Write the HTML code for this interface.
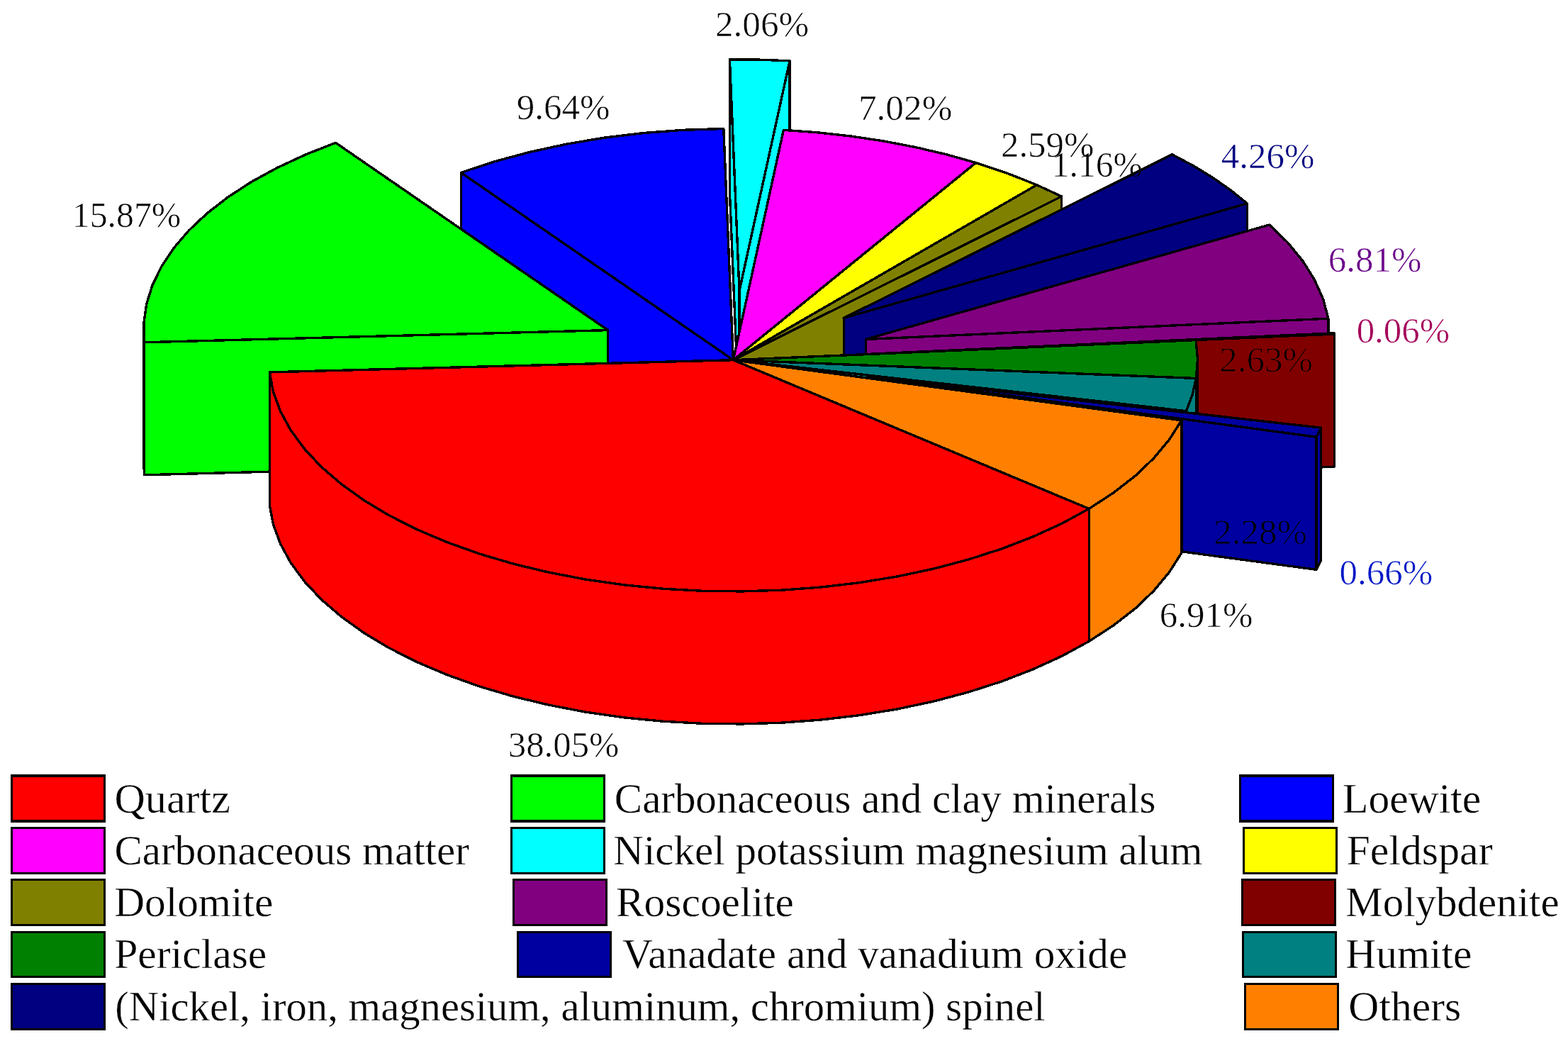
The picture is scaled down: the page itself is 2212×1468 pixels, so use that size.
<!DOCTYPE html>
<html lang="en">
<head>
<meta charset="utf-8">
<title>Mineral composition pie chart</title>
<style>
html,body{margin:0;padding:0;background:#fff;}
body{width:2212px;height:1468px;overflow:hidden;}
svg{display:block;}
</style>
</head>
<body>
<svg width="2212" height="1468" viewBox="0 0 2212 1468">
<g stroke="#000" stroke-width="3.4" stroke-linejoin="round" shape-rendering="crispEdges">
<g fill="#00FFFF"><path d="M1043.0 410.2 L1114.1 85.8 L1114.1 272.8 L1043.0 597.2 Z"/><path d="M1043.0 410.2 L1029.4 83.9 L1029.4 270.9 L1043.0 597.2 Z"/><path d="M1043.0 410.2 L1114.1 85.8 L1071.8 84.2 L1029.4 83.9 Z"/></g>
<g fill="#0000FF"><path d="M1034.4 507.7 L650.3 243.4 L650.3 430.4 L1034.4 694.7 Z"/><path d="M1034.4 507.7 L1020.8 181.5 L964.2 183.3 L908.2 187.5 L853.1 194.1 L799.4 203.1 L747.4 214.4 L697.6 227.8 L650.3 243.4 Z"/></g>
<g fill="#00FF00"><path d="M857.6 465.6 L203.4 482.8 L203.4 669.8 L857.6 652.6 Z"/><path d="M203.0 465.6 L203.4 482.8 L203.4 669.8 L203.0 652.6 Z"/><path d="M857.6 465.6 L473.5 201.3 L430.8 218.1 L391.0 236.6 L354.4 256.6 L321.3 278.2 L291.9 301.0 L266.5 324.9 L245.1 349.8 L227.9 375.6 L215.1 401.9 L206.7 428.7 L202.8 455.7 L203.4 482.8 Z"/></g>
<g fill="#FF00FF"><path d="M1034.4 507.7 L1376.7 229.5 L1376.7 416.5 L1034.4 694.7 Z"/><path d="M1034.4 507.7 L1376.7 229.5 L1334.7 217.7 L1291.1 207.5 L1246.2 198.9 L1200.1 192.0 L1153.1 186.8 L1105.4 183.3 Z"/></g>
<g fill="#FFFF00"><path d="M1034.4 507.7 L1462.6 260.8 L1462.6 447.8 L1034.4 694.7 Z"/><path d="M1034.4 507.7 L1462.6 260.8 L1420.9 244.3 L1376.7 229.5 Z"/></g>
<g fill="#808000"><path d="M1034.4 507.7 L1497.6 277.0 L1497.6 464.0 L1034.4 694.7 Z"/><path d="M1034.4 507.7 L1497.6 277.0 L1462.6 260.8 Z"/></g>
<g fill="#000080"><path d="M1190.2 448.5 L1759.5 287.0 L1759.5 474.0 L1190.2 635.5 Z"/><path d="M1190.2 448.5 L1759.5 287.0 L1736.5 268.4 L1711.1 250.6 L1683.4 233.7 L1653.5 217.8 Z"/></g>
<g fill="#800080"><path d="M1221.4 478.5 L1873.9 449.2 L1873.9 636.2 L1221.4 665.5 Z"/><path d="M1221.4 478.5 L1873.9 449.2 L1866.5 421.5 L1854.3 394.3 L1837.6 367.6 L1816.3 341.8 L1790.7 317.0 Z"/></g>
<g fill="#800000"><path d="M1229.6 499.1 L1882.3 471.1 L1882.3 658.1 L1229.6 686.1 Z"/><path d="M1229.6 499.1 L1882.3 471.1 L1882.1 469.8 Z"/></g>
<g fill="#008000"><path d="M1034.4 507.7 L1687.4 533.5 L1687.4 720.5 L1034.4 694.7 Z"/><path d="M1687.4 533.5 L1689.4 507.7 L1689.4 694.7 L1687.4 720.5 Z"/><path d="M1034.4 507.7 L1687.4 533.5 L1689.5 506.6 L1687.1 479.6 Z"/></g>
<g fill="#008080"><path d="M1034.4 507.7 L1673.4 579.7 L1673.4 766.7 L1034.4 694.7 Z"/><path d="M1673.4 579.7 L1682.1 556.7 L1687.4 533.5 L1687.4 720.5 L1682.1 743.7 L1673.4 766.7 Z"/><path d="M1034.4 507.7 L1673.4 579.7 L1682.1 556.7 L1687.4 533.5 Z"/></g>
<g fill="#0000A0"><path d="M1224.6 531.2 L1857.1 616.3 L1857.1 803.3 L1224.6 718.2 Z"/><path d="M1857.1 616.3 L1863.6 603.2 L1863.6 790.2 L1857.1 803.3 Z"/><path d="M1224.6 531.2 L1857.1 616.3 L1863.6 603.2 Z"/></g>
<g fill="#FF8000"><path d="M1034.4 507.7 L1536.3 717.4 L1536.3 904.4 L1034.4 694.7 Z"/><path d="M1536.3 717.4 L1570.9 694.9 L1601.5 671.1 L1627.8 646.0 L1649.6 619.8 L1666.8 592.8 L1666.8 779.8 L1649.6 806.8 L1627.8 833.0 L1601.5 858.1 L1570.9 881.9 L1536.3 904.4 Z"/><path d="M1034.4 507.7 L1536.3 717.4 L1570.9 694.9 L1601.5 671.1 L1627.8 646.0 L1649.6 619.8 L1666.8 592.8 Z"/></g>
<g fill="#FF0000"><path d="M380.2 524.9 L385.5 552.7 L395.6 580.0 L410.3 606.9 L429.6 633.1 L453.2 658.3 L481.2 682.4 L513.1 705.3 L548.8 726.7 L588.1 746.6 L630.6 764.6 L676.1 780.9 L724.1 795.1 L774.5 807.2 L826.7 817.2 L880.4 824.9 L935.3 830.2 L990.9 833.3 L1046.8 833.9 L1102.6 832.2 L1157.9 828.1 L1212.3 821.7 L1265.5 813.0 L1316.9 802.1 L1366.3 789.0 L1413.2 773.9 L1457.4 756.8 L1498.5 738.0 L1536.3 717.4 L1536.3 904.4 L1498.5 925.0 L1457.4 943.8 L1413.2 960.9 L1366.3 976.0 L1316.9 989.1 L1265.5 1000.0 L1212.3 1008.7 L1157.9 1015.1 L1102.6 1019.2 L1046.8 1020.9 L990.9 1020.3 L935.3 1017.2 L880.4 1011.9 L826.7 1004.2 L774.5 994.2 L724.1 982.1 L676.1 967.9 L630.6 951.6 L588.1 933.6 L548.8 913.7 L513.1 892.3 L481.2 869.4 L453.2 845.3 L429.6 820.1 L410.3 793.9 L395.6 767.0 L385.5 739.7 L380.2 711.9 Z"/><path d="M1034.4 507.7 L380.2 524.9 L385.5 552.7 L395.6 580.0 L410.3 606.9 L429.6 633.1 L453.2 658.3 L481.2 682.4 L513.1 705.3 L548.8 726.7 L588.1 746.6 L630.6 764.6 L676.1 780.9 L724.1 795.1 L774.5 807.2 L826.7 817.2 L880.4 824.9 L935.3 830.2 L990.9 833.3 L1046.8 833.9 L1102.6 832.2 L1157.9 828.1 L1212.3 821.7 L1265.5 813.0 L1316.9 802.1 L1366.3 789.0 L1413.2 773.9 L1457.4 756.8 L1498.5 738.0 L1536.3 717.4 Z"/></g>
</g>
<g shape-rendering="crispEdges"><rect x="15" y="1092" width="134" height="68" fill="#000"/><rect x="18" y="1096" width="128" height="60" fill="#FF0000"/><rect x="15" y="1166" width="134" height="67" fill="#000"/><rect x="18" y="1169" width="128" height="61" fill="#FF00FF"/><rect x="15" y="1239" width="134" height="67" fill="#000"/><rect x="18" y="1242" width="128" height="61" fill="#808000"/><rect x="15" y="1313" width="134" height="66" fill="#000"/><rect x="18" y="1316" width="128" height="60" fill="#008000"/><rect x="15" y="1386" width="134" height="67" fill="#000"/><rect x="18" y="1389" width="128" height="61" fill="#000080"/><rect x="720" y="1092" width="134" height="68" fill="#000"/><rect x="723" y="1096" width="128" height="60" fill="#00FF00"/><rect x="720" y="1166" width="134" height="67" fill="#000"/><rect x="723" y="1169" width="128" height="61" fill="#00FFFF"/><rect x="723" y="1239" width="134" height="67" fill="#000"/><rect x="726" y="1242" width="128" height="61" fill="#800080"/><rect x="729" y="1313" width="134" height="66" fill="#000"/><rect x="732" y="1316" width="128" height="60" fill="#0000A0"/><rect x="1748" y="1092" width="134" height="68" fill="#000"/><rect x="1751" y="1096" width="128" height="60" fill="#0000FF"/><rect x="1753" y="1166" width="134" height="67" fill="#000"/><rect x="1756" y="1169" width="128" height="61" fill="#FFFF00"/><rect x="1751" y="1239" width="134" height="67" fill="#000"/><rect x="1754" y="1242" width="128" height="61" fill="#800000"/><rect x="1752" y="1313" width="134" height="66" fill="#000"/><rect x="1755" y="1316" width="128" height="60" fill="#008080"/><rect x="1755" y="1386" width="134" height="67" fill="#000"/><rect x="1758" y="1389" width="128" height="61" fill="#FF8000"/></g>
<g font-family="'Liberation Serif', 'Times New Roman', serif">
<g font-size="50">
<text transform="matrix(1.0248 0 0 1 1008.95 50.80)" fill="#000" stroke="#fff" stroke-width="0.6" style="mix-blend-mode:darken">2.06%</text>
<text transform="matrix(1.0200 0 0 1 728.66 167.90)" fill="#000" stroke="#fff" stroke-width="0.6" style="mix-blend-mode:darken">9.64%</text>
<text transform="matrix(0.9953 0 0 1 101.82 319.70)" fill="#000" stroke="#fff" stroke-width="0.6" style="mix-blend-mode:darken">15.87%</text>
<text transform="matrix(1.0258 0 0 1 1210.92 168.80)" fill="#000" stroke="#fff" stroke-width="0.6" style="mix-blend-mode:darken">7.02%</text>
<text transform="matrix(1.0176 0 0 1 1411.96 221.00)" fill="#000" stroke="#fff" stroke-width="0.6" style="mix-blend-mode:darken">2.59%</text>
<text transform="matrix(0.9919 0 0 1 1483.83 249.10)" fill="#000" stroke="#fff" stroke-width="0.6" style="mix-blend-mode:darken">1.16%</text>
<text transform="matrix(1.0206 0 0 1 1722.78 237.00)" fill="#000080" stroke="#fff" stroke-width="0.6" style="mix-blend-mode:darken">4.26%</text>
<text transform="matrix(1.0200 0 0 1 1873.76 382.70)" fill="#6A008A" stroke="#fff" stroke-width="0.6" style="mix-blend-mode:darken">6.81%</text>
<text transform="matrix(1.0184 0 0 1 1913.66 483.00)" fill="#A5005A" stroke="#fff" stroke-width="0.6" style="mix-blend-mode:darken">0.06%</text>
<text transform="matrix(1.0224 0 0 1 1720.16 523.50)" fill="#000" stroke="#fff" stroke-width="0.6" style="mix-blend-mode:darken">2.63%</text>
<text transform="matrix(1.0200 0 0 1 1712.36 767.40)" fill="#000" stroke="#fff" stroke-width="0.6" style="mix-blend-mode:darken">2.28%</text>
<text transform="matrix(1.0200 0 0 1 1889.56 824.20)" fill="#0018C6" stroke="#fff" stroke-width="0.6" style="mix-blend-mode:darken">0.66%</text>
<text transform="matrix(1.0192 0 0 1 1635.76 884.00)" fill="#000" stroke="#fff" stroke-width="0.6" style="mix-blend-mode:darken">6.91%</text>
<text transform="matrix(1.0160 0 0 1 716.77 1067.00)" fill="#000" stroke="#fff" stroke-width="0.6" style="mix-blend-mode:darken">38.05%</text>
</g>
<g font-size="60" fill="#000" stroke="#fff" stroke-width="0.4">
<text transform="matrix(1.0025 0 0 1 161.39 1146.00)">Quartz</text>
<text transform="matrix(0.9851 0 0 1 161.44 1219.20)">Carbonaceous matter</text>
<text transform="matrix(0.9888 0 0 1 161.22 1292.00)">Dolomite</text>
<text transform="matrix(0.9934 0 0 1 161.21 1365.00)">Periclase</text>
<text transform="matrix(0.9785 0 0 1 162.26 1439.20)">(Nickel, iron, magnesium, aluminum, chromium) spinel</text>
<text transform="matrix(0.9818 0 0 1 866.85 1146.00)">Carbonaceous and clay minerals</text>
<text transform="matrix(0.9838 0 0 1 865.33 1219.20)">Nickel potassium magnesium alum</text>
<text transform="matrix(0.9916 0 0 1 868.92 1292.00)">Roscoelite</text>
<text transform="matrix(0.9876 0 0 1 878.01 1365.00)">Vanadate and vanadium oxide</text>
<text transform="matrix(0.9938 0 0 1 1894.01 1146.00)">Loewite</text>
<text transform="matrix(0.9975 0 0 1 1899.50 1219.20)">Feldspar</text>
<text transform="matrix(0.9825 0 0 1 1898.33 1292.00)">Molybdenite</text>
<text transform="matrix(0.9903 0 0 1 1898.32 1365.00)">Humite</text>
<text transform="matrix(0.9942 0 0 1 1902.32 1439.20)">Others</text>
</g>
</g>
</svg>
</body>
</html>
